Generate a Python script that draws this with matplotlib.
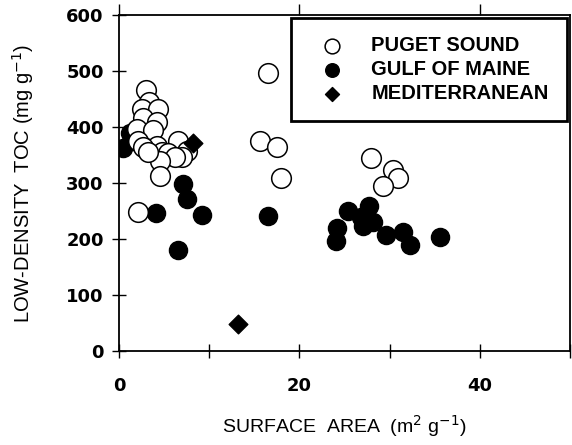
import matplotlib
matplotlib.use("Agg")
import matplotlib.pyplot as plt

# surface area (m2/g) vs low-density TOC (mg/g)
puget_x = [3.0, 3.3, 2.6, 4.3, 2.7, 4.2, 2.0, 3.8, 2.1, 6.5, 4.2, 2.7, 4.8, 5.4, 7.5,
           7.0, 6.2, 4.5, 3.2, 4.5, 2.1, 15.6, 16.5, 17.5, 18.0, 27.9, 30.4, 30.9, 29.3]
puget_y = [466, 444, 432, 433, 417, 410, 397, 394, 376, 376, 367, 364, 355, 353, 358,
           346, 346, 340, 355, 313, 248, 376, 496, 364, 310, 344, 323, 310, 294]

maine_x = [0.4, 1.2, 2.0, 1.5, 4.1, 6.5, 7.1, 7.5, 9.2, 16.5, 24.2, 24.1, 25.4, 26.8,
           27.0, 27.7, 28.2, 29.6, 31.5, 32.3, 35.6]
maine_y = [362, 390, 388, 375, 246, 180, 299, 271, 243, 241, 220, 196, 250, 240,
           224, 260, 230, 207, 212, 190, 203]

med_x = [8.2, 13.2]
med_y = [371, 49]

plt.rcParams['font.family'] = ['Liberation Sans', 'DejaVu Sans']

fig = plt.figure(figsize=(5.72, 4.45), dpi=100)
ax = fig.add_axes([0.208, 0.211, 0.7885, 0.755])

ax.scatter(puget_x, puget_y, s=200, facecolors='white', edgecolors='black',
           linewidths=1.1, label='PUGET SOUND', zorder=3)
ax.scatter(maine_x, maine_y, s=170, color='black', label='GULF OF MAINE', zorder=2)
ax.scatter(med_x, med_y, s=90, marker='D', color='black', label='MEDITERRANEAN', zorder=4)

ax.set_xlim(0, 50)
ax.set_ylim(0, 600)
ax.set_xticks([0, 10, 20, 30, 40, 50], ['0', '', '20', '', '40', ''])
ax.set_yticks([0, 100, 200, 300, 400, 500, 600])
for lab in ax.get_xticklabels() + ax.get_yticklabels():
    lab.set_fontfamily('DejaVu Sans')
    lab.set_fontweight('bold')
    lab.set_fontsize(13)
ax.tick_params(direction='inout', length=10, width=1, pad=6)
ax.tick_params(axis='x', pad=14)

top = ax.secondary_xaxis('top')
top.set_xticks([0, 20, 40], ['', '', ''])
top.tick_params(direction='out', length=8, width=1)
top.spines['top'].set_visible(False)

for sp in ax.spines.values():
    sp.set_linewidth(1.3)

ax.set_xlabel('SURFACE  AREA  (m$^2$ g$^{-1}$)', fontsize=14, labelpad=13)
ax.set_ylabel('LOW-DENSITY  TOC (mg g$^{-1}$)', fontsize=14.5, labelpad=22)

leg = ax.legend(loc='upper right', bbox_to_anchor=(0.993, 0.991), borderaxespad=0,
                fancybox=False, edgecolor='black', framealpha=1,
                prop={'size': 14.5, 'weight': 'bold'},
                borderpad=0.9, handletextpad=0.8, labelspacing=0.25,
                markerscale=0.75, handlelength=2.3)
leg.get_frame().set_linewidth(2)

fig.savefig('out.png')
